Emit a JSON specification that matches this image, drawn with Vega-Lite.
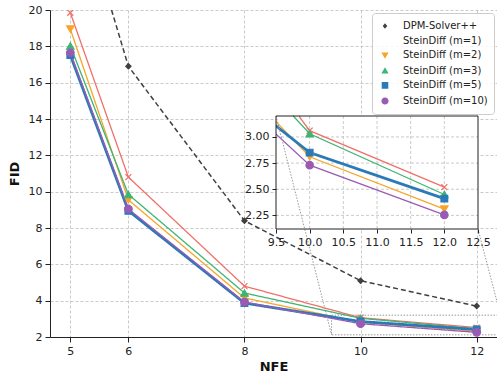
{
  "$schema": "https://vega.github.io/schema/vega-lite/v6.json",
  "autosize": {"type": "none"},
  "padding": {"left": 50, "top": 10, "right": 0, "bottom": 40},
  "width": 447,
  "height": 327,
  "background": "white",
  "view": {"stroke": null},
  "config": {
    "font": "DejaVu Sans",
    "axis": {
      "labelFont": "DejaVu Sans", "labelFontSize": 11, "labelColor": "#222",
      "tickColor": "#222", "domainColor": "#222", "tickSize": 5, "labelPadding": 3,
      "labelOverlap": false, "labelFlush": false,
      "gridColor": "#bdbdbd", "gridDash": [3, 2], "gridWidth": 0.8,
      "titleFont": "DejaVu Sans", "titleFontSize": 13, "titleFontWeight": "bold", "titleColor": "#111"
    }
  },
  "datasets": {
    "fid": [
      {"NFE": 5, "FID": 27.6, "series": "DPM-Solver++"},
      {"NFE": 6, "FID": 16.9, "series": "DPM-Solver++"},
      {"NFE": 8, "FID": 8.4, "series": "DPM-Solver++"},
      {"NFE": 10, "FID": 5.1, "series": "DPM-Solver++"},
      {"NFE": 12, "FID": 3.7, "series": "DPM-Solver++"},
      {"NFE": 5, "FID": 19.85, "series": "SteinDiff (m=1)"},
      {"NFE": 6, "FID": 10.8, "series": "SteinDiff (m=1)"},
      {"NFE": 8, "FID": 4.8, "series": "SteinDiff (m=1)"},
      {"NFE": 10, "FID": 3.06, "series": "SteinDiff (m=1)"},
      {"NFE": 12, "FID": 2.52, "series": "SteinDiff (m=1)"},
      {"NFE": 5, "FID": 18.95, "series": "SteinDiff (m=2)"},
      {"NFE": 6, "FID": 9.55, "series": "SteinDiff (m=2)"},
      {"NFE": 8, "FID": 4.15, "series": "SteinDiff (m=2)"},
      {"NFE": 10, "FID": 2.81, "series": "SteinDiff (m=2)"},
      {"NFE": 12, "FID": 2.31, "series": "SteinDiff (m=2)"},
      {"NFE": 5, "FID": 18.02, "series": "SteinDiff (m=3)"},
      {"NFE": 6, "FID": 9.85, "series": "SteinDiff (m=3)"},
      {"NFE": 8, "FID": 4.42, "series": "SteinDiff (m=3)"},
      {"NFE": 10, "FID": 3.03, "series": "SteinDiff (m=3)"},
      {"NFE": 12, "FID": 2.45, "series": "SteinDiff (m=3)"},
      {"NFE": 5, "FID": 17.52, "series": "SteinDiff (m=5)"},
      {"NFE": 6, "FID": 8.95, "series": "SteinDiff (m=5)"},
      {"NFE": 8, "FID": 3.87, "series": "SteinDiff (m=5)"},
      {"NFE": 10, "FID": 2.85, "series": "SteinDiff (m=5)"},
      {"NFE": 12, "FID": 2.41, "series": "SteinDiff (m=5)"},
      {"NFE": 5, "FID": 17.65, "series": "SteinDiff (m=10)"},
      {"NFE": 6, "FID": 9.05, "series": "SteinDiff (m=10)"},
      {"NFE": 8, "FID": 3.92, "series": "SteinDiff (m=10)"},
      {"NFE": 10, "FID": 2.73, "series": "SteinDiff (m=10)"},
      {"NFE": 12, "FID": 2.255, "series": "SteinDiff (m=10)"}
    ],
    "frame": [{"x1": 9.5, "x2": 12.5, "y1": 2.12, "y2": 3.2}],
    "conn": [
      {"cx": 9.5, "cy": 3.2, "cx2": 10.325, "cy2": 1.109},
      {"cx": 12.5, "cy": 2.12, "cx2": 12.911, "cy2": 1.109}
    ],
    "vgrid": [{"gx": 10}, {"gx": 10.5}, {"gx": 11}, {"gx": 11.5}, {"gx": 12}],
    "hgrid": [{"gy": 2.25}, {"gy": 2.5}, {"gy": 2.75}, {"gy": 3.0}]
  },
  "resolve": {"scale": {"x": "independent", "y": "independent"}, "axis": {"x": "independent", "y": "independent"}},
  "layer": [
    {
      "layer": [
        {
          "data": {"name": "frame"},
          "mark": {"type": "rect", "filled": false, "stroke": "#999", "strokeWidth": 1, "strokeDash": [1.5, 1.5], "clip": true},
          "encoding": {
            "x": {"field": "x1", "type": "quantitative", "axis": {"title": "NFE"}},
            "x2": {"field": "x2"},
            "y": {"field": "y1", "type": "quantitative", "axis": {"title": "FID"}},
            "y2": {"field": "y2"}
          }
        },
        {
          "data": {"name": "fid"},
          "mark": {"type": "line", "clip": true},
          "encoding": {
            "x": {"field": "NFE", "type": "quantitative",
                  "scale": {"domain": [4.65, 12.35], "nice": false, "zero": false},
                  "axis": {"values": [5, 6, 8, 10, 12], "format": "d", "tickCount": 20, "title": "NFE", "titlePadding": 4, "grid": true}},
            "y": {"field": "FID", "type": "quantitative",
                  "scale": {"domain": [2, 20], "nice": false, "zero": false},
                  "axis": {"values": [2, 4, 6, 8, 10, 12, 14, 16, 18, 20], "format": "d", "tickCount": 20, "title": "FID", "titlePadding": 7, "grid": true}},
            "stroke": {"field": "series", "type": "nominal", "legend": null,
                       "scale": {"domain": ["SteinDiff (m=10)", "SteinDiff (m=5)", "SteinDiff (m=3)", "SteinDiff (m=2)", "SteinDiff (m=1)", "DPM-Solver++"],
                                 "range": ["#9A5BB5", "#2A7AB8", "#3DB574", "#F7A52A", "#F07068", "#404040"]}},
            "strokeDash": {"field": "series", "type": "nominal", "legend": null,
                           "scale": {"domain": ["SteinDiff (m=10)", "SteinDiff (m=5)", "SteinDiff (m=3)", "SteinDiff (m=2)", "SteinDiff (m=1)", "DPM-Solver++"],
                                     "range": [[1, 0], [1, 0], [1, 0], [1, 0], [1, 0], [5, 3]]}},
            "strokeWidth": {"field": "series", "type": "nominal", "legend": null,
                            "scale": {"type": "ordinal", "domain": ["SteinDiff (m=10)", "SteinDiff (m=5)", "SteinDiff (m=3)", "SteinDiff (m=2)", "SteinDiff (m=1)", "DPM-Solver++"],
                                      "range": [1.3, 2.8, 1.3, 1.3, 1.3, 1.5]}},
            "order": {"field": "NFE", "type": "quantitative"}
          }
        },
        {
          "data": {"name": "fid"},
          "transform": [{"filter": "datum.series === 'DPM-Solver++'"}],
          "mark": {"type": "point", "filled": true, "opacity": 1, "shape": "diamond", "size": 28, "fill": "#404040", "stroke": "#404040", "strokeWidth": 1.2, "clip": true},
          "encoding": {"x": {"field": "NFE", "type": "quantitative"}, "y": {"field": "FID", "type": "quantitative"}}
        },
        {
          "data": {"name": "fid"},
          "transform": [{"filter": "datum.series === 'SteinDiff (m=1)'"}],
          "mark": {"type": "point", "filled": true, "opacity": 1, "shape": "M-1,-1L1,1M-1,1L1,-1", "size": 36, "fill": "#F07068", "stroke": "#F07068", "strokeWidth": 1.2, "clip": true},
          "encoding": {"x": {"field": "NFE", "type": "quantitative"}, "y": {"field": "FID", "type": "quantitative"}}
        },
        {
          "data": {"name": "fid"},
          "transform": [{"filter": "datum.series === 'SteinDiff (m=2)'"}],
          "mark": {"type": "point", "filled": true, "opacity": 1, "shape": "triangle-down", "size": 55, "fill": "#F7A52A", "stroke": "#F7A52A", "strokeWidth": 1.2, "clip": true},
          "encoding": {"x": {"field": "NFE", "type": "quantitative"}, "y": {"field": "FID", "type": "quantitative"}}
        },
        {
          "data": {"name": "fid"},
          "transform": [{"filter": "datum.series === 'SteinDiff (m=3)'"}],
          "mark": {"type": "point", "filled": true, "opacity": 1, "shape": "triangle-up", "size": 55, "fill": "#3DB574", "stroke": "#3DB574", "strokeWidth": 1.2, "clip": true},
          "encoding": {"x": {"field": "NFE", "type": "quantitative"}, "y": {"field": "FID", "type": "quantitative"}}
        },
        {
          "data": {"name": "fid"},
          "transform": [{"filter": "datum.series === 'SteinDiff (m=5)'"}],
          "mark": {"type": "point", "filled": true, "opacity": 1, "shape": "square", "size": 45, "fill": "#2A7AB8", "stroke": "#2A7AB8", "strokeWidth": 1.2, "clip": true},
          "encoding": {"x": {"field": "NFE", "type": "quantitative"}, "y": {"field": "FID", "type": "quantitative"}}
        },
        {
          "data": {"name": "fid"},
          "transform": [{"filter": "datum.series === 'SteinDiff (m=10)'"}],
          "mark": {"type": "point", "filled": true, "opacity": 1, "shape": "circle", "size": 55, "fill": "#9A5BB5", "stroke": "#9A5BB5", "strokeWidth": 1.2, "clip": true},
          "encoding": {"x": {"field": "NFE", "type": "quantitative"}, "y": {"field": "FID", "type": "quantitative"}}
        },
        {
          "data": {"name": "fid"},
          "mark": {"type": "point", "filled": true, "opacity": 0, "strokeWidth": 1.4, "clip": true},
          "encoding": {
            "x": {"field": "NFE", "type": "quantitative"},
            "y": {"field": "FID", "type": "quantitative"},
            "fill": {"field": "series", "type": "nominal",
                     "scale": {"domain": ["DPM-Solver++", "SteinDiff (m=1)", "SteinDiff (m=2)", "SteinDiff (m=3)", "SteinDiff (m=5)", "SteinDiff (m=10)"],
                               "range": ["#404040", "#F07068", "#F7A52A", "#3DB574", "#2A7AB8", "#9A5BB5"]},
                     "legend": {
                       "title": null, "orient": "top-right", "offset": 3,
                       "labelFont": "DejaVu Sans", "labelFontSize": 10, "labelColor": "#222",
                       "symbolSize": 144, "symbolStrokeWidth": 1.4, "symbolOpacity": 1,
                       "labelOffset": 11, "rowPadding": 1.6, "padding": 6,
                       "fillColor": "rgba(255,255,255,0.85)", "strokeColor": "#cccccc", "cornerRadius": 3
                     }},
            "shape": {"field": "series", "type": "nominal",
                      "scale": {"domain": ["DPM-Solver++", "SteinDiff (m=1)", "SteinDiff (m=2)", "SteinDiff (m=3)", "SteinDiff (m=5)", "SteinDiff (m=10)"],
                                "range": [
                                  "M-1.8,0H-1.15M-0.75,0H0.75M1.15,0H1.8M0,-0.45L0.38,0L0,0.45L-0.38,0Z",
                                  "M-1.8,0H1.8M-0.45,-0.45L0.45,0.45M-0.45,0.45L0.45,-0.45",
                                  "M-1.8,0H1.8M-0.6,-0.45H0.6L0,0.6Z",
                                  "M-1.8,0H1.8M-0.6,0.45H0.6L0,-0.6Z",
                                  "M-1.8,0H1.8M-0.55,-0.55H0.55V0.55H-0.55Z",
                                  "M-1.8,0H1.8M0.6,0A0.6,0.6,0,1,1,-0.6,0A0.6,0.6,0,1,1,0.6,0Z"
                                ]},
                      "legend": {
                       "title": null, "orient": "top-right", "offset": 3,
                       "labelFont": "DejaVu Sans", "labelFontSize": 10, "labelColor": "#222",
                       "symbolSize": 144, "symbolStrokeWidth": 1.4, "symbolOpacity": 1,
                       "labelOffset": 11, "rowPadding": 1.6, "padding": 6,
                       "fillColor": "rgba(255,255,255,0.85)", "strokeColor": "#cccccc", "cornerRadius": 3
                     }},
            "stroke": {"field": "series", "type": "nominal", "legend": null}
          }
        }
      ]
    },
    {
      "layer": [
        {
          "data": {"name": "frame"},
          "mark": {"type": "rect", "fill": "white", "stroke": null},
          "encoding": {
            "x": {"field": "x1", "type": "quantitative",
                  "scale": {"domain": [9.5, 12.5], "range": [226, 428], "nice": false, "zero": false},
                  "axis": {"orient": "bottom", "offset": -108, "values": [9.5, 10, 10.5, 11, 11.5, 12, 12.5], "format": ".1f", "tickCount": 20, "title": null, "grid": false, "domain": false, "tickSize": 4, "zindex": 1}},
            "x2": {"field": "x2"},
            "y": {"field": "y1", "type": "quantitative",
                  "scale": {"domain": [2.12, 3.2], "range": [219, 106], "nice": false, "zero": false},
                  "axis": {"orient": "left", "offset": -226, "values": [2.25, 2.5, 2.75, 3.0], "format": ".2f", "tickCount": 20, "title": null, "grid": false, "domain": false, "tickSize": 4, "zindex": 1}},
            "y2": {"field": "y2"}
          }
        },
        {
          "data": {"name": "vgrid"},
          "mark": {"type": "rule", "stroke": "#bdbdbd", "strokeDash": [3, 2], "strokeWidth": 0.8},
          "encoding": {
            "x": {"field": "gx", "type": "quantitative", "axis": {"title": null}},
            "y": {"datum": 2.12, "type": "quantitative", "axis": {"title": null}},
            "y2": {"datum": 3.2}
          }
        },
        {
          "data": {"name": "hgrid"},
          "mark": {"type": "rule", "stroke": "#bdbdbd", "strokeDash": [3, 2], "strokeWidth": 0.8},
          "encoding": {
            "y": {"field": "gy", "type": "quantitative", "axis": {"title": null}},
            "x": {"datum": 9.5, "type": "quantitative", "axis": {"title": null}},
            "x2": {"datum": 12.5}
          }
        },
        {
          "data": {"name": "fid"},
          "transform": [{"filter": "datum.series === 'SteinDiff (m=1)' && datum.NFE >= 8"}],
          "mark": {"type": "line", "strokeWidth": 1.3,
                   "stroke": {"gradient": "linear", "x1": 0, "y1": 0, "x2": 1, "y2": 0,
                              "stops": [{"offset": 0, "color": "rgba(255,255,255,0)"}, {"offset": 0.46, "color": "rgba(255,255,255,0)"}, {"offset": 0.46, "color": "#F07068"}, {"offset": 1, "color": "#F07068"}]}},
          "encoding": {
            "x": {"field": "NFE", "type": "quantitative", "axis": {"title": null}},
            "y": {"field": "FID", "type": "quantitative", "axis": {"title": null}}
          }
        },
        {
          "data": {"name": "fid"},
          "transform": [{"filter": "datum.series === 'SteinDiff (m=2)' && datum.NFE >= 8"}],
          "mark": {"type": "line", "strokeWidth": 1.3,
                   "stroke": {"gradient": "linear", "x1": 0, "y1": 0, "x2": 1, "y2": 0,
                              "stops": [{"offset": 0, "color": "rgba(255,255,255,0)"}, {"offset": 0.375, "color": "rgba(255,255,255,0)"}, {"offset": 0.375, "color": "#F7A52A"}, {"offset": 1, "color": "#F7A52A"}]}},
          "encoding": {
            "x": {"field": "NFE", "type": "quantitative", "axis": {"title": null}},
            "y": {"field": "FID", "type": "quantitative", "axis": {"title": null}}
          }
        },
        {
          "data": {"name": "fid"},
          "transform": [{"filter": "datum.series === 'SteinDiff (m=3)' && datum.NFE >= 8"}],
          "mark": {"type": "line", "strokeWidth": 1.3,
                   "stroke": {"gradient": "linear", "x1": 0, "y1": 0, "x2": 1, "y2": 0,
                              "stops": [{"offset": 0, "color": "rgba(255,255,255,0)"}, {"offset": 0.439, "color": "rgba(255,255,255,0)"}, {"offset": 0.439, "color": "#3DB574"}, {"offset": 1, "color": "#3DB574"}]}},
          "encoding": {
            "x": {"field": "NFE", "type": "quantitative", "axis": {"title": null}},
            "y": {"field": "FID", "type": "quantitative", "axis": {"title": null}}
          }
        },
        {
          "data": {"name": "fid"},
          "transform": [{"filter": "datum.series === 'SteinDiff (m=5)' && datum.NFE >= 8"}],
          "mark": {"type": "line", "strokeWidth": 2.8,
                   "stroke": {"gradient": "linear", "x1": 0, "y1": 0, "x2": 1, "y2": 0,
                              "stops": [{"offset": 0, "color": "rgba(255,255,255,0)"}, {"offset": 0.375, "color": "rgba(255,255,255,0)"}, {"offset": 0.375, "color": "#2A7AB8"}, {"offset": 1, "color": "#2A7AB8"}]}},
          "encoding": {
            "x": {"field": "NFE", "type": "quantitative", "axis": {"title": null}},
            "y": {"field": "FID", "type": "quantitative", "axis": {"title": null}}
          }
        },
        {
          "data": {"name": "fid"},
          "transform": [{"filter": "datum.series === 'SteinDiff (m=10)' && datum.NFE >= 8"}],
          "mark": {"type": "line", "strokeWidth": 1.3,
                   "stroke": {"gradient": "linear", "x1": 0, "y1": 0, "x2": 1, "y2": 0,
                              "stops": [{"offset": 0, "color": "rgba(255,255,255,0)"}, {"offset": 0.375, "color": "rgba(255,255,255,0)"}, {"offset": 0.375, "color": "#9A5BB5"}, {"offset": 1, "color": "#9A5BB5"}]}},
          "encoding": {
            "x": {"field": "NFE", "type": "quantitative", "axis": {"title": null}},
            "y": {"field": "FID", "type": "quantitative", "axis": {"title": null}}
          }
        },
        {
          "data": {"name": "fid"},
          "transform": [{"filter": "datum.series === 'SteinDiff (m=1)' && datum.NFE >= 10"}],
          "mark": {"type": "point", "filled": true, "opacity": 1, "shape": "M-1,-1L1,1M-1,1L1,-1", "size": 36, "fill": "#F07068", "stroke": "#F07068", "strokeWidth": 1.2},
          "encoding": {"x": {"field": "NFE", "type": "quantitative", "axis": {"title": null}}, "y": {"field": "FID", "type": "quantitative", "axis": {"title": null}}}
        },
        {
          "data": {"name": "fid"},
          "transform": [{"filter": "datum.series === 'SteinDiff (m=2)' && datum.NFE >= 10"}],
          "mark": {"type": "point", "filled": true, "opacity": 1, "shape": "triangle-down", "size": 55, "fill": "#F7A52A", "stroke": "#F7A52A", "strokeWidth": 1.2},
          "encoding": {"x": {"field": "NFE", "type": "quantitative", "axis": {"title": null}}, "y": {"field": "FID", "type": "quantitative", "axis": {"title": null}}}
        },
        {
          "data": {"name": "fid"},
          "transform": [{"filter": "datum.series === 'SteinDiff (m=3)' && datum.NFE >= 10"}],
          "mark": {"type": "point", "filled": true, "opacity": 1, "shape": "triangle-up", "size": 55, "fill": "#3DB574", "stroke": "#3DB574", "strokeWidth": 1.2},
          "encoding": {"x": {"field": "NFE", "type": "quantitative", "axis": {"title": null}}, "y": {"field": "FID", "type": "quantitative", "axis": {"title": null}}}
        },
        {
          "data": {"name": "fid"},
          "transform": [{"filter": "datum.series === 'SteinDiff (m=5)' && datum.NFE >= 10"}],
          "mark": {"type": "point", "filled": true, "opacity": 1, "shape": "square", "size": 45, "fill": "#2A7AB8", "stroke": "#2A7AB8", "strokeWidth": 1.2},
          "encoding": {"x": {"field": "NFE", "type": "quantitative", "axis": {"title": null}}, "y": {"field": "FID", "type": "quantitative", "axis": {"title": null}}}
        },
        {
          "data": {"name": "fid"},
          "transform": [{"filter": "datum.series === 'SteinDiff (m=10)' && datum.NFE >= 10"}],
          "mark": {"type": "point", "filled": true, "opacity": 1, "shape": "circle", "size": 55, "fill": "#9A5BB5", "stroke": "#9A5BB5", "strokeWidth": 1.2},
          "encoding": {"x": {"field": "NFE", "type": "quantitative", "axis": {"title": null}}, "y": {"field": "FID", "type": "quantitative", "axis": {"title": null}}}
        },
        {
          "data": {"name": "conn"},
          "mark": {"type": "rule", "stroke": "#999", "strokeWidth": 1, "strokeDash": [1.5, 1.5]},
          "encoding": {
            "x": {"field": "cx", "type": "quantitative", "axis": {"title": null}},
            "y": {"field": "cy", "type": "quantitative", "axis": {"title": null}},
            "x2": {"field": "cx2"},
            "y2": {"field": "cy2"}
          }
        },
        {
          "data": {"name": "frame"},
          "mark": {"type": "rect", "filled": false, "stroke": "#222", "strokeWidth": 1},
          "encoding": {
            "x": {"field": "x1", "type": "quantitative", "axis": {"title": null}},
            "x2": {"field": "x2"},
            "y": {"field": "y1", "type": "quantitative", "axis": {"title": null}},
            "y2": {"field": "y2"}
          }
        }
      ]
    }
  ]
}
